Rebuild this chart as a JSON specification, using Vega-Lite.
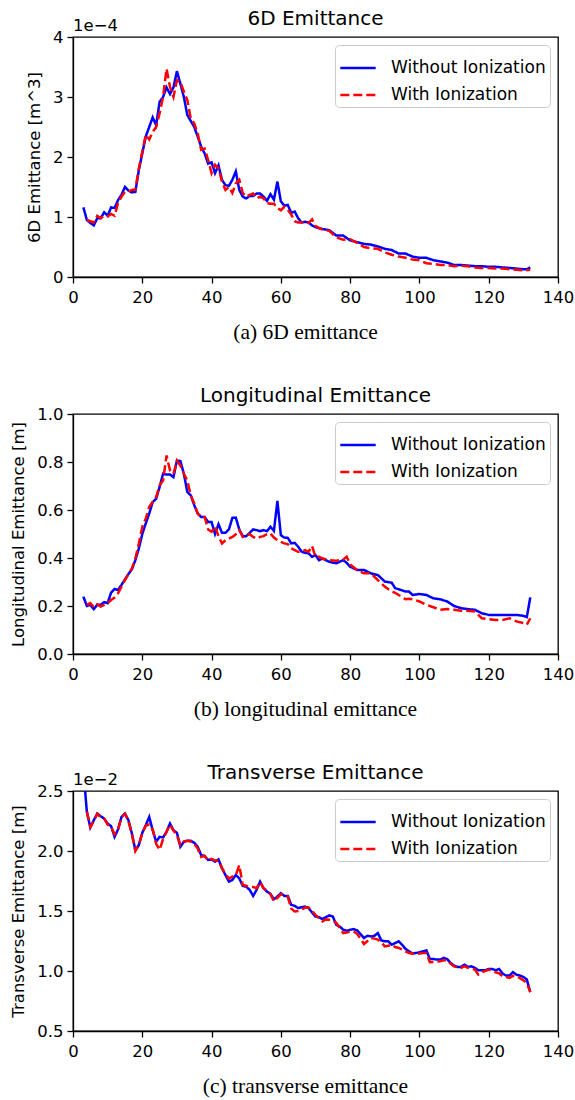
{
"$schema": "https://vega.github.io/schema/vega-lite/v6.json",
"background": "white",
"padding": {"left": 10, "top": 8, "right": 0, "bottom": 0},
"config": {
  "font": "DejaVu Sans",
  "view": {"stroke": "black", "strokeWidth": 1.3},
  "axis": {"grid": false, "domainColor": "black", "domainWidth": 1.3, "tickColor": "black", "tickWidth": 1.3, "tickSize": 6, "labelColor": "black", "titleColor": "black", "labelFontSize": 16.5, "titleFontSize": 16.5, "titleFontWeight": "normal", "labelPadding": 4, "labelFlush": false, "labelOverlap": false, "labelFont": "DejaVu Sans", "titleFont": "DejaVu Sans"},
  "axisY": {"titlePadding": 10},
  "axisX": {"titleFont": "Liberation Serif", "titleFontSize": 21.5, "titlePadding": 16, "labelPadding": 6, "titleX": 232},
  "title": {"fontSize": 20, "fontWeight": "normal", "font": "DejaVu Sans", "color": "black"},
  "legend": {"title": null, "orient": "top-right", "offset": 8, "fillColor": "rgba(255,255,255,0.85)", "strokeColor": "#cccccc", "cornerRadius": 4, "padding": 4, "labelFontSize": 17, "labelColor": "black", "labelFont": "DejaVu Sans", "symbolSize": 1250, "symbolStrokeWidth": 2.5, "symbolType": "stroke", "rowPadding": 0, "labelOffset": 14},
  "concat": {"spacing": 41}
},
"datasets": {
"p1": [
{"x":3,"wo":1.16e-4,"wi":null},{"x":4,"wo":0.95e-4,"wi":0.95e-4},{"x":5,"wo":0.90e-4,"wi":0.93e-4},{"x":6,"wo":0.86e-4,"wi":0.91e-4},{"x":7,"wo":0.98e-4,"wi":1.02e-4},{"x":8,"wo":0.98e-4,"wi":0.98e-4},{"x":9,"wo":1.08e-4,"wi":1.02e-4},{"x":10,"wo":1.02e-4,"wi":1.01e-4},{"x":11,"wo":1.16e-4,"wi":1.05e-4},{"x":12,"wo":1.15e-4,"wi":1.02e-4},
{"x":13,"wo":1.28e-4,"wi":1.23e-4},{"x":14,"wo":1.37e-4,"wi":1.34e-4},{"x":15,"wo":1.50e-4,"wi":1.42e-4},{"x":16,"wo":1.44e-4,"wi":1.42e-4},{"x":17,"wo":1.41e-4,"wi":1.45e-4},{"x":18,"wo":1.42e-4,"wi":1.46e-4},{"x":19,"wo":1.78e-4,"wi":1.81e-4},{"x":20,"wo":2.06e-4,"wi":2.09e-4},{"x":21,"wo":2.34e-4,"wi":2.37e-4},{"x":22,"wo":2.50e-4,"wi":2.29e-4},
{"x":23,"wo":2.66e-4,"wi":2.42e-4},{"x":24,"wo":2.53e-4,"wi":2.50e-4},{"x":25,"wo":2.92e-4,"wi":2.73e-4},{"x":26,"wo":3.00e-4,"wi":3.00e-4},{"x":27,"wo":3.16e-4,"wi":3.47e-4},{"x":28,"wo":3.05e-4,"wi":3.17e-4},{"x":29,"wo":3.16e-4,"wi":3.00e-4},{"x":30,"wo":3.43e-4,"wi":3.28e-4},{"x":31,"wo":3.22e-4,"wi":3.25e-4},{"x":32,"wo":3.00e-4,"wi":3.09e-4},
{"x":33,"wo":2.70e-4,"wi":2.95e-4},{"x":34,"wo":2.60e-4,"wi":2.64e-4},{"x":35,"wo":2.50e-4,"wi":2.56e-4},{"x":36,"wo":2.34e-4,"wi":2.39e-4},{"x":37,"wo":2.17e-4,"wi":2.12e-4},{"x":38,"wo":2.06e-4,"wi":2.14e-4},{"x":39,"wo":1.89e-4,"wi":1.95e-4},{"x":40,"wo":1.91e-4,"wi":1.73e-4},{"x":41,"wo":1.73e-4,"wi":1.87e-4},{"x":42,"wo":1.86e-4,"wi":1.81e-4},
{"x":43,"wo":1.62e-4,"wi":1.59e-4},{"x":44,"wo":1.53e-4,"wi":1.45e-4},{"x":45,"wo":1.52e-4,"wi":1.50e-4},{"x":46,"wo":1.62e-4,"wi":1.40e-4},{"x":47,"wo":1.76e-4,"wi":1.56e-4},{"x":48,"wo":1.45e-4,"wi":1.62e-4},{"x":49,"wo":1.34e-4,"wi":1.40e-4},{"x":50,"wo":1.31e-4,"wi":1.34e-4},{"x":51,"wo":1.35e-4,"wi":1.37e-4},{"x":52,"wo":1.35e-4,"wi":1.39e-4},
{"x":53,"wo":1.39e-4,"wi":1.31e-4},{"x":54,"wo":1.39e-4,"wi":1.34e-4},{"x":55,"wo":1.34e-4,"wi":1.31e-4},{"x":56,"wo":1.27e-4,"wi":1.23e-4},{"x":57,"wo":1.38e-4,"wi":1.22e-4},{"x":58,"wo":1.29e-4,"wi":1.22e-4},{"x":59,"wo":1.59e-4,"wi":1.15e-4},{"x":60,"wo":1.26e-4,"wi":1.11e-4},{"x":61,"wo":1.19e-4,"wi":1.17e-4},{"x":62,"wo":1.20e-4,"wi":1.12e-4},
{"x":63,"wo":1.07e-4,"wi":1.04e-4},{"x":64,"wo":1.09e-4,"wi":0.93e-4},{"x":65,"wo":0.98e-4,"wi":0.91e-4},{"x":66,"wo":0.91e-4,"wi":0.91e-4},{"x":67,"wo":0.92e-4,"wi":0.92e-4},{"x":68,"wo":0.91e-4,"wi":0.90e-4},{"x":69,"wo":0.86e-4,"wi":0.96e-4},{"x":70,"wo":0.83e-4,"wi":0.85e-4},
{"x":72,"wo":0.80e-4,"wi":0.79e-4},{"x":74,"wo":0.78e-4,"wi":0.77e-4},{"x":76,"wo":0.69e-4,"wi":0.66e-4},{"x":78,"wo":0.69e-4,"wi":0.62e-4},{"x":80,"wo":0.61e-4,"wi":0.63e-4},{"x":82,"wo":0.58e-4,"wi":0.57e-4},{"x":84,"wo":0.55e-4,"wi":0.50e-4},{"x":86,"wo":0.54e-4,"wi":0.48e-4},{"x":88,"wo":0.51e-4,"wi":0.47e-4},{"x":90,"wo":0.47e-4,"wi":0.41e-4},
{"x":92,"wo":0.45e-4,"wi":0.37e-4},{"x":94,"wo":0.39e-4,"wi":0.34e-4},{"x":96,"wo":0.39e-4,"wi":0.32e-4},{"x":98,"wo":0.34e-4,"wi":0.29e-4},{"x":100,"wo":0.32e-4,"wi":0.28e-4},{"x":102,"wo":0.32e-4,"wi":0.23e-4},{"x":104,"wo":0.28e-4,"wi":0.22e-4},{"x":106,"wo":0.26e-4,"wi":0.20e-4},{"x":108,"wo":0.24e-4,"wi":0.20e-4},{"x":110,"wo":0.20e-4,"wi":0.18e-4},
{"x":112,"wo":0.20e-4,"wi":0.19e-4},{"x":114,"wo":0.19e-4,"wi":0.18e-4},{"x":116,"wo":0.18e-4,"wi":0.16e-4},{"x":118,"wo":0.18e-4,"wi":0.15e-4},{"x":120,"wo":0.17e-4,"wi":0.15e-4},{"x":122,"wo":0.17e-4,"wi":0.14e-4},{"x":124,"wo":0.16e-4,"wi":0.14e-4},{"x":126,"wo":0.15e-4,"wi":0.13e-4},{"x":128,"wo":0.14e-4,"wi":0.12e-4},{"x":130,"wo":0.13e-4,"wi":0.11e-4},
{"x":131,"wo":0.13e-4,"wi":null},{"x":132,"wo":0.16e-4,"wi":0.12e-4}
],
"p2": [
{"x":3,"wo":0.239,"wi":null},{"x":4,"wo":0.200,"wi":0.205},{"x":5,"wo":0.205,"wi":0.212},{"x":6,"wo":0.187,"wi":0.195},{"x":7,"wo":0.205,"wi":0.207},{"x":8,"wo":0.205,"wi":0.198},{"x":9,"wo":0.216,"wi":0.205},{"x":10,"wo":0.212,"wi":0.212},{"x":11,"wo":0.256,"wi":0.225},{"x":12,"wo":0.271,"wi":0.235},
{"x":13,"wo":0.267,"wi":0.253},{"x":14,"wo":0.288,"wi":0.281},{"x":15,"wo":0.311,"wi":0.308},{"x":16,"wo":0.333,"wi":0.333},{"x":17,"wo":0.353,"wi":0.357},{"x":18,"wo":0.391,"wi":0.398},{"x":19,"wo":0.44,"wi":0.46},{"x":20,"wo":0.50,"wi":0.53},{"x":21,"wo":0.544,"wi":0.564},{"x":22,"wo":0.585,"wi":0.613},
{"x":23,"wo":0.633,"wi":0.633},{"x":24,"wo":0.647,"wi":0.654},{"x":25,"wo":0.696,"wi":0.703},{"x":26,"wo":0.751,"wi":0.723},{"x":27,"wo":0.748,"wi":0.827},{"x":28,"wo":0.748,"wi":0.765},{"x":29,"wo":0.737,"wi":0.751},{"x":30,"wo":0.806,"wi":0.806},{"x":31,"wo":0.804,"wi":0.785},{"x":32,"wo":0.751,"wi":0.751},
{"x":33,"wo":0.675,"wi":0.723},{"x":34,"wo":0.661,"wi":0.661},{"x":35,"wo":0.62,"wi":0.627},{"x":36,"wo":0.585,"wi":0.585},{"x":37,"wo":0.571,"wi":0.571},{"x":38,"wo":0.571,"wi":0.571},{"x":39,"wo":0.55,"wi":0.519},{"x":40,"wo":0.55,"wi":0.509},{"x":41,"wo":0.50,"wi":0.532},{"x":42,"wo":0.541,"wi":0.491},
{"x":43,"wo":0.505,"wi":0.461},{"x":44,"wo":0.505,"wi":0.474},{"x":45,"wo":0.519,"wi":0.481},{"x":46,"wo":0.567,"wi":0.488},{"x":47,"wo":0.568,"wi":0.499},{"x":48,"wo":0.519,"wi":0.516},{"x":49,"wo":0.491,"wi":0.488},{"x":50,"wo":0.491,"wi":0.495},{"x":51,"wo":0.505,"wi":0.499},{"x":52,"wo":0.519,"wi":0.488},
{"x":53,"wo":0.516,"wi":0.481},{"x":54,"wo":0.512,"wi":0.488},{"x":55,"wo":0.516,"wi":0.491},{"x":56,"wo":0.512,"wi":0.499},{"x":57,"wo":0.53,"wi":0.502},{"x":58,"wo":0.513,"wi":0.485},{"x":59,"wo":0.638,"wi":0.474},{"x":60,"wo":0.495,"wi":0.467},{"x":61,"wo":0.485,"wi":0.461},{"x":62,"wo":0.484,"wi":0.458},
{"x":63,"wo":0.461,"wi":0.44},{"x":64,"wo":0.463,"wi":0.433},{"x":65,"wo":0.447,"wi":0.426},{"x":66,"wo":0.426,"wi":0.426},{"x":67,"wo":0.422,"wi":0.433},{"x":68,"wo":0.419,"wi":0.426},{"x":69,"wo":0.405,"wi":0.45},{"x":70,"wo":0.412,"wi":0.405},{"x":71,"wo":0.391,"wi":0.405},{"x":72,"wo":0.398,"wi":0.398},
{"x":73,"wo":0.391,"wi":0.395},{"x":74,"wo":0.384,"wi":0.391},{"x":76,"wo":0.378,"wi":0.389},{"x":78,"wo":0.391,"wi":0.394},{"x":79,"wo":0.38,"wi":0.405},{"x":80,"wo":0.364,"wi":0.373},{"x":82,"wo":0.35,"wi":0.35},{"x":84,"wo":0.35,"wi":0.336},{"x":86,"wo":0.336,"wi":0.336},{"x":88,"wo":0.329,"wi":0.308},
{"x":90,"wo":0.302,"wi":0.281},{"x":92,"wo":0.297,"wi":0.26},{"x":93,"wo":0.274,"wi":0.255},{"x":94,"wo":0.27,"wi":0.246},{"x":96,"wo":0.26,"wi":0.228},{"x":97,"wo":0.26,"wi":0.23},{"x":98,"wo":0.246,"wi":0.228},{"x":100,"wo":0.25,"wi":0.219},{"x":102,"wo":0.246,"wi":0.205},{"x":104,"wo":0.232,"wi":0.195},
{"x":106,"wo":0.228,"wi":0.184},{"x":108,"wo":0.219,"wi":0.187},{"x":110,"wo":0.20,"wi":0.184},{"x":112,"wo":0.191,"wi":0.18},{"x":114,"wo":0.187,"wi":0.18},{"x":116,"wo":0.184,"wi":0.177},{"x":118,"wo":0.17,"wi":0.149},{"x":120,"wo":0.163,"wi":0.145},{"x":122,"wo":0.163,"wi":0.142},{"x":124,"wo":0.163,"wi":0.142},
{"x":126,"wo":0.163,"wi":0.149},{"x":128,"wo":0.163,"wi":0.136},{"x":130,"wo":0.159,"wi":0.129},{"x":131,"wo":0.154,"wi":0.122},{"x":132,"wo":0.236,"wi":0.149}
],
"p3": [
{"x":3,"wo":2.68e-2,"wi":null},{"x":4,"wo":2.326e-2,"wi":2.33e-2},{"x":5,"wo":2.196e-2,"wi":2.20e-2},{"x":6,"wo":2.257e-2,"wi":2.25e-2},{"x":7,"wo":2.312e-2,"wi":2.31e-2},{"x":8,"wo":2.29e-2,"wi":2.28e-2},{"x":9,"wo":2.27e-2,"wi":2.27e-2},{"x":10,"wo":2.229e-2,"wi":2.22e-2},{"x":11,"wo":2.207e-2,"wi":2.20e-2},{"x":12,"wo":2.118e-2,"wi":2.14e-2},
{"x":13,"wo":2.18e-2,"wi":2.18e-2},{"x":14,"wo":2.284e-2,"wi":2.28e-2},{"x":15,"wo":2.312e-2,"wi":2.31e-2},{"x":16,"wo":2.257e-2,"wi":2.25e-2},{"x":17,"wo":2.146e-2,"wi":2.14e-2},{"x":18,"wo":2.008e-2,"wi":2.00e-2},{"x":19,"wo":2.049e-2,"wi":2.05e-2},{"x":20,"wo":2.151e-2,"wi":2.15e-2},{"x":21,"wo":2.215e-2,"wi":2.21e-2},{"x":22,"wo":2.284e-2,"wi":2.22e-2},
{"x":23,"wo":2.174e-2,"wi":2.18e-2},{"x":24,"wo":2.077e-2,"wi":2.06e-2},{"x":25,"wo":2.118e-2,"wi":2.01e-2},{"x":26,"wo":2.113e-2,"wi":2.10e-2},{"x":27,"wo":2.16e-2,"wi":2.16e-2},{"x":28,"wo":2.229e-2,"wi":2.22e-2},{"x":29,"wo":2.174e-2,"wi":2.17e-2},{"x":30,"wo":2.151e-2,"wi":2.13e-2},{"x":31,"wo":2.035e-2,"wi":2.05e-2},{"x":32,"wo":2.077e-2,"wi":2.08e-2},
{"x":33,"wo":2.085e-2,"wi":2.085e-2},{"x":34,"wo":2.085e-2,"wi":2.08e-2},{"x":35,"wo":2.068e-2,"wi":2.06e-2},{"x":36,"wo":2.035e-2,"wi":2.02e-2},{"x":37,"wo":1.966e-2,"wi":1.95e-2},{"x":38,"wo":1.958e-2,"wi":1.96e-2},{"x":39,"wo":1.925e-2,"wi":1.92e-2},{"x":40,"wo":1.93e-2,"wi":1.935e-2},{"x":41,"wo":1.911e-2,"wi":1.92e-2},{"x":42,"wo":1.93e-2,"wi":1.92e-2},
{"x":43,"wo":1.855e-2,"wi":1.86e-2},{"x":44,"wo":1.80e-2,"wi":1.81e-2},{"x":45,"wo":1.745e-2,"wi":1.77e-2},{"x":46,"wo":1.759e-2,"wi":1.786e-2},{"x":47,"wo":1.80e-2,"wi":1.80e-2},{"x":48,"wo":1.772e-2,"wi":1.883e-2},{"x":49,"wo":1.709e-2,"wi":1.717e-2},{"x":50,"wo":1.703e-2,"wi":1.71e-2},{"x":51,"wo":1.676e-2,"wi":1.70e-2},{"x":52,"wo":1.626e-2,"wi":1.70e-2},
{"x":53,"wo":1.676e-2,"wi":1.69e-2},{"x":54,"wo":1.745e-2,"wi":1.74e-2},{"x":55,"wo":1.689e-2,"wi":1.69e-2},{"x":56,"wo":1.662e-2,"wi":1.67e-2},{"x":57,"wo":1.642e-2,"wi":1.64e-2},{"x":58,"wo":1.598e-2,"wi":1.58e-2},{"x":59,"wo":1.62e-2,"wi":1.61e-2},{"x":60,"wo":1.648e-2,"wi":1.64e-2},{"x":61,"wo":1.626e-2,"wi":1.63e-2},{"x":62,"wo":1.626e-2,"wi":1.62e-2},
{"x":63,"wo":1.551e-2,"wi":1.52e-2},{"x":64,"wo":1.543e-2,"wi":1.496e-2},{"x":65,"wo":1.524e-2,"wi":1.50e-2},{"x":66,"wo":1.532e-2,"wi":1.51e-2},{"x":67,"wo":1.537e-2,"wi":1.53e-2},{"x":68,"wo":1.524e-2,"wi":1.53e-2},{"x":69,"wo":1.488e-2,"wi":1.50e-2},{"x":70,"wo":1.454e-2,"wi":1.468e-2},{"x":71,"wo":1.449e-2,"wi":1.44e-2},{"x":72,"wo":1.432e-2,"wi":1.413e-2},
{"x":73,"wo":1.449e-2,"wi":1.43e-2},{"x":74,"wo":1.463e-2,"wi":1.427e-2},{"x":75,"wo":1.454e-2,"wi":1.42e-2},{"x":76,"wo":1.385e-2,"wi":1.40e-2},{"x":77,"wo":1.371e-2,"wi":1.36e-2},{"x":78,"wo":1.344e-2,"wi":1.316e-2},{"x":79,"wo":1.335e-2,"wi":1.32e-2},{"x":80,"wo":1.344e-2,"wi":1.33e-2},{"x":81,"wo":1.349e-2,"wi":1.33e-2},{"x":82,"wo":1.338e-2,"wi":1.31e-2},
{"x":83,"wo":1.308e-2,"wi":1.27e-2},{"x":84,"wo":1.275e-2,"wi":1.225e-2},{"x":85,"wo":1.294e-2,"wi":1.25e-2},{"x":86,"wo":1.288e-2,"wi":1.275e-2},{"x":87,"wo":1.294e-2,"wi":1.27e-2},{"x":88,"wo":1.316e-2,"wi":1.261e-2},{"x":89,"wo":1.255e-2,"wi":1.24e-2},{"x":90,"wo":1.247e-2,"wi":1.205e-2},{"x":91,"wo":1.247e-2,"wi":1.21e-2},{"x":92,"wo":1.219e-2,"wi":1.219e-2},
{"x":93,"wo":1.233e-2,"wi":1.20e-2},{"x":94,"wo":1.247e-2,"wi":1.192e-2},{"x":95,"wo":1.219e-2,"wi":1.18e-2},{"x":96,"wo":1.183e-2,"wi":1.164e-2},{"x":97,"wo":1.164e-2,"wi":1.15e-2},{"x":98,"wo":1.145e-2,"wi":1.145e-2},{"x":99,"wo":1.15e-2,"wi":1.14e-2},{"x":100,"wo":1.156e-2,"wi":1.145e-2},{"x":101,"wo":1.164e-2,"wi":1.15e-2},{"x":102,"wo":1.172e-2,"wi":1.15e-2},
{"x":103,"wo":1.10e-2,"wi":1.073e-2},{"x":104,"wo":1.10e-2,"wi":1.075e-2},{"x":105,"wo":1.095e-2,"wi":1.08e-2},{"x":106,"wo":1.095e-2,"wi":1.081e-2},{"x":107,"wo":1.109e-2,"wi":1.09e-2},{"x":108,"wo":1.10e-2,"wi":1.089e-2},{"x":109,"wo":1.067e-2,"wi":1.06e-2},{"x":110,"wo":1.045e-2,"wi":1.039e-2},{"x":111,"wo":1.034e-2,"wi":1.03e-2},{"x":112,"wo":1.034e-2,"wi":1.026e-2},
{"x":113,"wo":1.053e-2,"wi":1.04e-2},{"x":114,"wo":1.034e-2,"wi":1.026e-2},{"x":115,"wo":1.039e-2,"wi":1.02e-2},{"x":116,"wo":1.026e-2,"wi":1.012e-2},{"x":117,"wo":1.006e-2,"wi":0.97e-2},{"x":118,"wo":1.006e-2,"wi":0.99e-2},{"x":119,"wo":1.006e-2,"wi":1.00e-2},{"x":120,"wo":1.017e-2,"wi":1.012e-2},{"x":121,"wo":1.017e-2,"wi":1.00e-2},{"x":122,"wo":1.006e-2,"wi":0.99e-2},
{"x":123,"wo":1.017e-2,"wi":0.98e-2},{"x":124,"wo":0.979e-2,"wi":0.956e-2},{"x":125,"wo":0.962e-2,"wi":0.95e-2},{"x":126,"wo":0.962e-2,"wi":0.943e-2},{"x":127,"wo":0.99e-2,"wi":0.96e-2},{"x":128,"wo":0.97e-2,"wi":0.956e-2},{"x":129,"wo":0.962e-2,"wi":0.94e-2},{"x":130,"wo":0.951e-2,"wi":0.923e-2},{"x":131,"wo":0.929e-2,"wi":0.90e-2},{"x":132,"wo":0.824e-2,"wi":0.824e-2}
]
},
"vconcat": [
{
  "width": 485, "height": 240,
  "title": {"text": "6D Emittance", "offset": -11},
  "layer": [
    {
      "data": {"name": "p1"},
      "transform": [{"fold": ["wo", "wi"], "as": ["k", "v"]}, {"filter": "isValid(datum.v)"}],
      "mark": {"type": "line", "strokeWidth": 2.5, "clip": true},
      "encoding": {
        "x": {"field": "x", "type": "quantitative", "scale": {"domain": [0, 140], "nice": false}, "axis": {"values": [0, 20, 40, 60, 80, 100, 120, 140], "title": "(a) 6D emittance"}},
        "y": {"field": "v", "type": "quantitative", "scale": {"domain": [0, 0.0004], "nice": false}, "axis": {"values": [0, 0.0001, 0.0002, 0.0003, 0.0004], "labelExpr": "format(datum.value*10000, '.0f')", "title": "6D Emittance [m^3]"}},
        "color": {"field": "k", "type": "nominal", "scale": {"domain": ["wo", "wi"], "range": ["#0000ff", "#ff0000"]}, "legend": {"labelExpr": "datum.label == 'wo' ? 'Without Ionization' : 'With Ionization'"}},
        "strokeDash": {"field": "k", "type": "nominal", "scale": {"domain": ["wo", "wi"], "range": [[1, 0], [9, 4]]}, "legend": {"labelExpr": "datum.label == 'wo' ? 'Without Ionization' : 'With Ionization'"}}
      }
    },
    {
      "data": {"values": [{}]},
      "mark": {"type": "text", "align": "left", "baseline": "bottom", "dy": -3, "fontSize": 16.5, "color": "black", "text": "1e−4"},
      "encoding": {"x": {"datum": 0, "type": "quantitative"}, "y": {"datum": 0.0004, "type": "quantitative"}}
    }
  ]
},
{
  "width": 485, "height": 240,
  "title": {"text": "Longitudinal Emittance", "offset": 0},
  "layer": [
    {
      "data": {"name": "p2"},
      "transform": [{"fold": ["wo", "wi"], "as": ["k", "v"]}, {"filter": "isValid(datum.v)"}],
      "mark": {"type": "line", "strokeWidth": 2.5, "clip": true},
      "encoding": {
        "x": {"field": "x", "type": "quantitative", "scale": {"domain": [0, 140], "nice": false}, "axis": {"values": [0, 20, 40, 60, 80, 100, 120, 140], "title": "(b) longitudinal emittance"}},
        "y": {"field": "v", "type": "quantitative", "scale": {"domain": [0, 1], "nice": false}, "axis": {"values": [0, 0.2, 0.4, 0.6, 0.8, 1.0], "format": ".1f", "title": "Longitudinal Emittance [m]"}},
        "color": {"field": "k", "type": "nominal", "scale": {"domain": ["wo", "wi"], "range": ["#0000ff", "#ff0000"]}, "legend": {"labelExpr": "datum.label == 'wo' ? 'Without Ionization' : 'With Ionization'"}},
        "strokeDash": {"field": "k", "type": "nominal", "scale": {"domain": ["wo", "wi"], "range": [[1, 0], [9, 4]]}, "legend": {"labelExpr": "datum.label == 'wo' ? 'Without Ionization' : 'With Ionization'"}}
      }
    }
  ]
},
{
  "width": 485, "height": 240,
  "title": {"text": "Transverse Emittance", "offset": -11},
  "layer": [
    {
      "data": {"name": "p3"},
      "transform": [{"fold": ["wo", "wi"], "as": ["k", "v"]}, {"filter": "isValid(datum.v)"}],
      "mark": {"type": "line", "strokeWidth": 2.5, "clip": true},
      "encoding": {
        "x": {"field": "x", "type": "quantitative", "scale": {"domain": [0, 140], "nice": false}, "axis": {"values": [0, 20, 40, 60, 80, 100, 120, 140], "title": "(c) transverse emittance"}},
        "y": {"field": "v", "type": "quantitative", "scale": {"domain": [0.005, 0.025], "nice": false}, "axis": {"values": [0.005, 0.01, 0.015, 0.02, 0.025], "labelExpr": "format(datum.value*100, '.1f')", "title": "Transverse Emittance [m]"}},
        "color": {"field": "k", "type": "nominal", "scale": {"domain": ["wo", "wi"], "range": ["#0000ff", "#ff0000"]}, "legend": {"labelExpr": "datum.label == 'wo' ? 'Without Ionization' : 'With Ionization'"}},
        "strokeDash": {"field": "k", "type": "nominal", "scale": {"domain": ["wo", "wi"], "range": [[1, 0], [9, 4]]}, "legend": {"labelExpr": "datum.label == 'wo' ? 'Without Ionization' : 'With Ionization'"}}
      }
    },
    {
      "data": {"values": [{}]},
      "mark": {"type": "text", "align": "left", "baseline": "bottom", "dy": -3, "fontSize": 16.5, "color": "black", "text": "1e−2"},
      "encoding": {"x": {"datum": 0, "type": "quantitative"}, "y": {"datum": 0.025, "type": "quantitative"}}
    }
  ]
}
],
"resolve": {"legend": {"color": "independent", "strokeDash": "independent"}}
}
